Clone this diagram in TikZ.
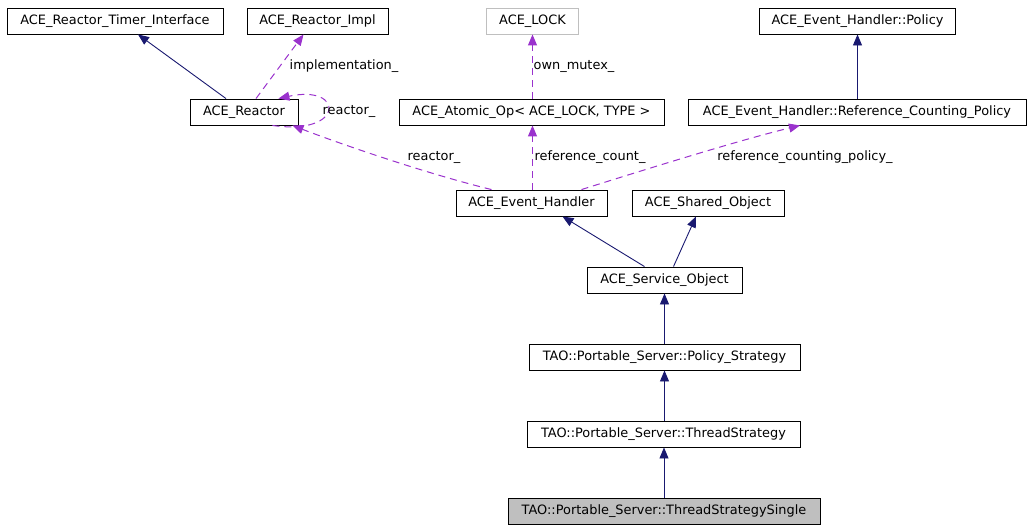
\documentclass[tikz,border=0pt]{standalone}
\usepackage{fontspec}
\setmainfont{DejaVu Sans}
\usetikzlibrary{arrows.meta}
\definecolor{inhc}{HTML}{191970}
\definecolor{depc}{HTML}{9A32CD}
\definecolor{greyb}{HTML}{BFBFBF}
\tikzset{
  box/.style={draw=black, line width=0.9pt, minimum height=26, inner sep=0pt, font=\fontsize{12.9}{14}\selectfont},
  greybox/.style={box, draw=greyb},
  lbl/.style={inner sep=0pt, font=\fontsize{12.9}{14}\selectfont},
  inh/.style={draw=inhc, line width=0.9pt, -{Triangle[length=11pt,width=9pt]}},
  dep/.style={draw=depc, line width=1pt, dash pattern=on 7pt off 5pt, -{Triangle[length=11pt,width=9pt]}},
}
\begin{document}
\begin{tikzpicture}[x=1pt,y=-1pt]
\useasboundingbox (0,0) rectangle (1031,531);
\node[box, minimum width=216] (rti) at (115,21) {ACE\_Reactor\_Timer\_Interface};
\node[box, minimum width=141] (rimpl) at (317.5,21) {ACE\_Reactor\_Impl};
\node[greybox, minimum width=92] (lock) at (532.5,21) {ACE\_LOCK};
\node[box, minimum width=196] (pol) at (857.5,21) {ACE\_Event\_Handler::Policy};
\node[box, minimum width=108] (reactor) at (244,112) {ACE\_Reactor};
\node[box, minimum width=265] (atomic) at (531.5,112) {ACE\_Atomic\_Op< ACE\_LOCK, TYPE >};
\node[box, minimum width=338] (rcp) at (857,112) {ACE\_Event\_Handler::Reference\_Counting\_Policy};
\node[box, minimum width=151] (eh) at (531.5,203) {ACE\_Event\_Handler};
\node[box, minimum width=152] (so) at (708,203) {ACE\_Shared\_Object};
\node[box, minimum width=155] (svc) at (664.5,280) {ACE\_Service\_Object};
\node[box, minimum width=271] (ps) at (664.5,357) {TAO::Portable\_Server::Policy\_Strategy};
\node[box, minimum width=273] (ts) at (663.5,434) {TAO::Portable\_Server::ThreadStrategy};
\node[box, minimum width=312, fill=greyb] (tss) at (664,511) {TAO::Portable\_Server::ThreadStrategySingle};

% inheritance
\draw[inh] ([xshift=-18]reactor.north) -- ([xshift=23]rti.south);
\draw[inh] (rcp.north -| pol.south) -- (pol.south);
\draw[inh] ([xshift=-20]svc.north) -- ([xshift=31]eh.south);
\draw[inh] ([xshift=9]svc.north) -- ([xshift=-12]so.south);
\draw[inh] (ps.north -| svc.south) -- (svc.south);
\draw[inh] (ts.north -| ps.south) -- (ps.south);
\draw[inh] (tss.north) -- (tss.north |- ts.south);

% dependencies
\draw[dep] ([xshift=12]reactor.north) -- ([xshift=-14]rimpl.south);
\node[lbl] (limpl) at (344,66) {implementation\_};
\draw[dep] ([xshift=-26]reactor.south east) .. controls (345,136) and (345,84) .. ([xshift=-20]reactor.north east);
\node[lbl] (lself) at (349,111) {reactor\_};
\draw[dep] (atomic.north -| lock.south) -- (lock.south);
\node[lbl] (lmutex) at (574,66) {own\_mutex\_};
\draw[dep] ([xshift=-40]eh.north) .. controls (420,172) and (330,140) .. ([xshift=-6]reactor.south east);
\node[lbl] (lreact) at (434,157) {reactor\_};
\draw[dep] (eh.north -| lock.south) -- (atomic.south -| lock.south);
\node[lbl] (lcount) at (590,157) {reference\_count\_};
\draw[dep] ([xshift=50]eh.north) .. controls (650,168) and (740,140) .. ([xshift=-57]rcp.south);
\node[lbl] (lrcp) at (805,157) {reference\_counting\_policy\_};
\end{tikzpicture}
\end{document}
